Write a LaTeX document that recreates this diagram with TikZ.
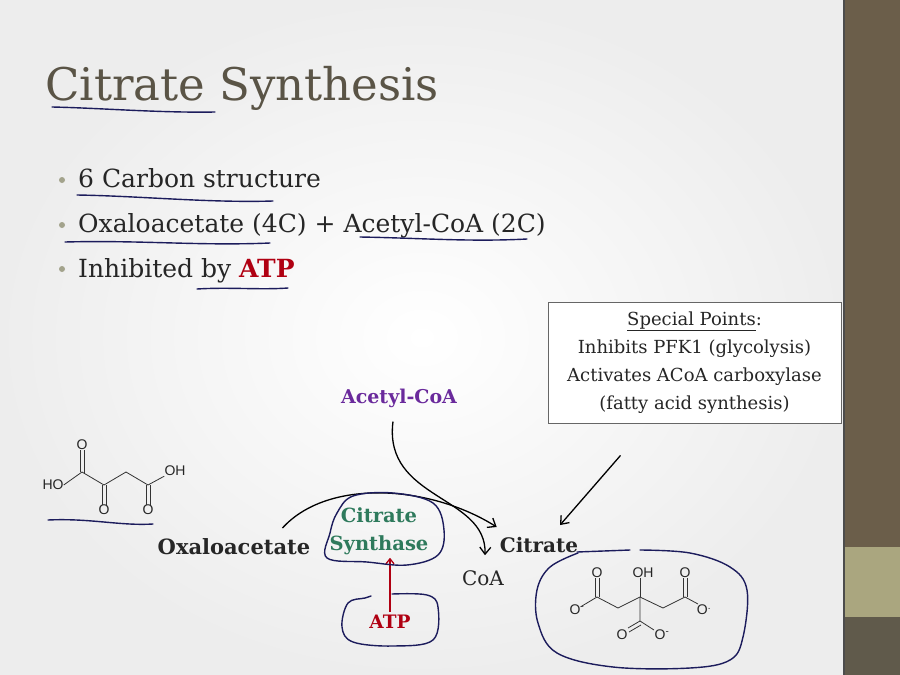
\documentclass[tikz,border=0pt]{standalone}
\usepackage{fontspec}
\setmainfont{DejaVu Serif}
\newfontfamily\chemfont{Liberation Sans}
\usetikzlibrary{positioning,arrows.meta}
\definecolor{titlegray}{HTML}{5A5446}
\definecolor{dotgray}{HTML}{A3A38C}
\definecolor{inkblue}{HTML}{1C1C5C}
\definecolor{atpred}{HTML}{B00012}
\definecolor{acoapurple}{HTML}{6A2A9C}
\definecolor{csgreen}{HTML}{2E7A5C}
\definecolor{barbrown}{HTML}{6B5E4A}
\definecolor{barlight}{HTML}{AAA67F}
\definecolor{bardark}{HTML}{605A4B}
\tikzset{
  ink/.style={draw=inkblue,line width=1.4pt,line cap=round,line join=round},
  arr/.style={line width=1.3pt,-{Straight Barb[length=7pt,width=11pt]}},
  lbl/.style={font=\fontsize{21}{24}\selectfont\bfseries,inner sep=1pt},
  bul/.style={anchor=base west,font=\fontsize{25}{28}\selectfont,text=black!85,inner sep=0pt},
  chem/.style={font=\chemfont\fontsize{14}{14}\selectfont,inner sep=0pt,text=black!85},
  bond/.style={line width=0.8pt,black!80}
}
\begin{document}
\begin{tikzpicture}[x=1pt,y=-1pt]
\useasboundingbox (0,0) rectangle (900,675);
\shade[inner color=white,outer color=black!7] (0,0) rectangle (844,675);
% side bar
\fill[barbrown] (844,0) rectangle (900,547);
\fill[barlight] (844,547) rectangle (900,617);
\fill[bardark] (844,617) rectangle (900,675);
\draw[black!70,line width=1.2pt] (844,0) -- (844,675);
% title and bullets
\node[anchor=base west,font=\fontsize{45}{50}\selectfont,text=titlegray,inner sep=0pt] (title) at (45,100) {Citrate Synthesis};
\foreach \y in {180,225,269} \fill[dotgray] (62,\y) circle (3);
\node[bul] (b1) at (78,187) {6 Carbon structure};
\node[bul] (b2) at (78,232) {Oxaloacetate (4C) + Acetyl-CoA (2C)};
\node[bul] (b3) at (78,277) {Inhibited by \textcolor{atpred}{\bfseries ATP}};
% special points box
\node[draw=black!60,line width=0.9pt,fill=white,minimum width=293pt,minimum height=121pt,align=center,font=\fontsize{18}{28}\selectfont,text=black!85] (spec) at (694.5,362.5) {\underline{Special Points}:\\Inhibits PFK1 (glycolysis)\\Activates ACoA carboxylase\\(fatty acid synthesis)};
% reaction
\node[lbl,text=black!85] (oaa) at (234,547) {Oxaloacetate};
\node[lbl,text=csgreen,align=center,font=\fontsize{19.5}{28}\selectfont\bfseries] (cs) at (379,531) {Citrate\\Synthase};
\node[lbl,text=black!85,font=\fontsize{20}{24}\selectfont\bfseries] (cit) at (539,545) {Citrate};
\node[lbl,text=acoapurple,font=\fontsize{19}{22}\selectfont\bfseries] (acoa) at (399,398) {Acetyl-CoA};
\node[font=\fontsize{20}{22}\selectfont,text=black!85,inner sep=1pt] (coa) at (483,578) {CoA};
\node[lbl,text=atpred,font=\fontsize{18.5}{22}\selectfont\bfseries] (atp) at (390,622) {ATP};
\draw[arr] ([shift={(-29,-19)}]oaa.east) .. controls (328,478) and (430,485) .. ([shift={(-2,-18)}]cit.west);
\draw[arr] ([shift={(-6,13)}]acoa.south) .. controls (383,500) and (487,495) .. ([shift={(2,-14)}]coa.north);
\draw[arr] ([shift={(-74,32)}]spec.south) -- ([shift={(21,-11)}]cit.north);
\draw[atpred,line width=1.3pt,-{Straight Barb[length=5pt,width=8pt]}] ([yshift=2pt]atp.north) -- ([yshift=-2pt]atp.north |- cs.south);
% oxaloacetate skeleton
\node[chem] (oho) at (53,485) {HO};
\node[chem] (oo1) at (82,445) {O};
\node[chem] (oo2) at (104,510) {O};
\node[chem] (oo3) at (148,510) {O};
\node[chem] (ooh) at (175,471) {OH};
\draw[bond] (oho.east) -- (82,472) -- (104,485) -- (126,472) -- (148,485) -- (ooh.south west);
\draw[bond] (80,472) -- (oo1.south -| 80,0) (84,474) -- (oo1.south -| 84,0);
\draw[bond] (102,485) -- (oo2.north -| 102,0) (106,485) -- (oo2.north -| 106,0);
\draw[bond] (146,485) -- (oo3.north -| 146,0) (150,485) -- (oo3.north -| 150,0);
\draw[ink] (48,520) .. controls (90,518) and (120,526) .. (153,524);
% citrate skeleton
\node[chem] (co1) at (597,573) {O};
\node[chem] (co2) at (577,610) {O\textsuperscript{-}};
\node[chem] (coh) at (643,573) {OH};
\node[chem] (co3) at (685,573) {O};
\node[chem] (co4) at (704,610) {O\textsuperscript{.}};
\node[chem] (co5) at (622,635) {O};
\node[chem] (co6) at (662,635) {O\textsuperscript{-}};
\draw[bond] (co2.north east) ++(-4,2) -- (597,597) -- (618,608) -- (640,597) -- (663,608) -- (685,597) -- (698,604);
\draw[bond] (595,597) -- (co1.south -| 595,0) (599,597) -- (co1.south -| 599,0);
\draw[bond] (683,597) -- (co3.south -| 683,0) (687,597) -- (co3.south -| 687,0);
\draw[bond] (640,597) -- (coh.south -| 640,0);
\draw[bond] (640,597) -- (640,621) -- (654,630);
\draw[bond] (640,621) -- (628,628) (641,625) -- (629,632);
% hand drawn marks
\draw[ink] (52,107) .. controls (100,108) and (160,113) .. (215,112);
\draw[ink] (77,195) .. controls (140,196) and (210,203) .. (273,201);
\draw[ink] (65,242) .. controls (140,240) and (200,246) .. (270,243);
\draw[ink] (360,237) .. controls (420,238) and (470,242) .. (527,239);
\draw[ink] (197,289) .. controls (230,287) and (260,290) .. (288,288);
\draw[ink] plot[smooth cycle,tension=0.6] coordinates {(337,513) (353,496) (393,493) (433,503) (444,530) (438,555) (407,565) (367,562) (327,558) (330,533)};
\draw[ink] plot[smooth,tension=0.6] coordinates {(371,596) (365,598) (348,603) (342,627) (353,642) (393,646) (433,640) (438,607) (427,595) (392,594)};
\draw[ink] (577,552) -- (630,550);
\draw[ink] plot[smooth,tension=0.6] coordinates {(640,550) (690,553) (730,567) (747,590) (743,637) (730,660) (690,668) (613,667) (557,653) (538,623) (537,590) (550,567) (578,553)};
\end{tikzpicture}
\end{document}
